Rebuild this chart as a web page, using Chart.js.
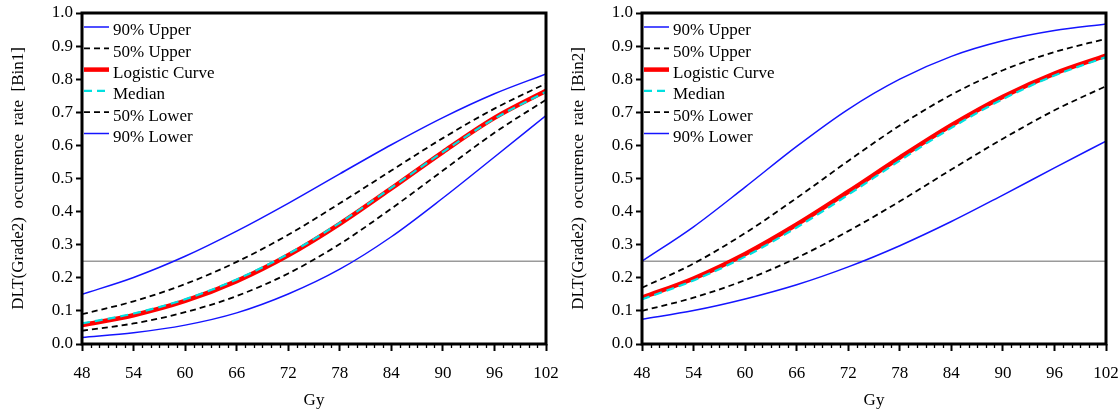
<!DOCTYPE html>
<html>
<head>
<meta charset="utf-8">
<script src="https://cdn.jsdelivr.net/npm/chart.js@4.4.0/dist/chart.umd.min.js"></script>
<style>
  html, body { margin: 0; padding: 0; background: #fff; }
  #wrap { position: relative; width: 1120px; height: 411px; }
  canvas { position: absolute; top: 0; }
</style>
</head>
<body>
<div id="wrap">
  <canvas id="bin1" width="560" height="411" style="left:0"></canvas>
  <canvas id="bin2" width="560" height="411" style="left:560px"></canvas>
</div>
<script>
// dosis (Gy)
const gy = [48, 54, 60, 66, 72, 78, 84, 90, 96, 102];
const umbral = 0.25;

// Bin1
const upper90_1  = [0.150, 0.201, 0.265, 0.341, 0.425, 0.514, 0.602, 0.684, 0.756, 0.816];
const upper50_1  = [0.090, 0.129, 0.181, 0.248, 0.330, 0.425, 0.524, 0.622, 0.711, 0.787];
const logistic_1 = [0.057, 0.087, 0.130, 0.190, 0.268, 0.363, 0.470, 0.580, 0.683, 0.765];
const median_1   = [0.062, 0.092, 0.135, 0.195, 0.272, 0.366, 0.472, 0.580, 0.681, 0.762];
const lower50_1  = [0.040, 0.062, 0.096, 0.145, 0.213, 0.302, 0.409, 0.524, 0.638, 0.738];
const lower90_1  = [0.020, 0.034, 0.057, 0.094, 0.151, 0.226, 0.324, 0.441, 0.565, 0.690];

// Bin2
const upper90_2  = [0.250, 0.354, 0.474, 0.597, 0.709, 0.800, 0.869, 0.916, 0.947, 0.967];
const upper50_2  = [0.170, 0.243, 0.335, 0.441, 0.553, 0.660, 0.753, 0.827, 0.882, 0.922];
const logistic_2 = [0.140, 0.198, 0.272, 0.361, 0.460, 0.563, 0.661, 0.747, 0.817, 0.871];
const median_2   = [0.135, 0.192, 0.264, 0.352, 0.451, 0.554, 0.653, 0.740, 0.811, 0.867];
const lower50_2  = [0.100, 0.140, 0.193, 0.260, 0.341, 0.431, 0.527, 0.620, 0.706, 0.779];
const lower90_2  = [0.075, 0.101, 0.136, 0.179, 0.233, 0.297, 0.370, 0.450, 0.532, 0.613];

const xTicks = [48, 54, 60, 66, 72, 78, 84, 90, 96, 102];
const FONT = '"Liberation Serif", "DejaVu Serif", serif';

const estilos = {
  upper90:  { label: '90% Upper',      color: '#1414ff', width: 1.5, dash: [] },
  upper50:  { label: '50% Upper',      color: '#000000', width: 1.8, dash: [6, 4] },
  logistic: { label: 'Logistic Curve', color: '#ff0000', width: 4.5, dash: [] },
  median:   { label: 'Median',         color: '#00e0e0', width: 2.2, dash: [8, 5] },
  lower50:  { label: '50% Lower',      color: '#000000', width: 1.8, dash: [6, 4] },
  lower90:  { label: '90% Lower',      color: '#1414ff', width: 1.5, dash: [] }
};
const ordenLeyenda = ['upper90', 'upper50', 'logistic', 'median', 'lower50', 'lower90'];

function serie(key, valores) {
  const e = estilos[key];
  return {
    label: e.label,
    data: gy.map((g, i) => ({ x: g, y: valores[i] })),
    borderColor: e.color,
    borderWidth: e.width,
    borderDash: e.dash,
    pointRadius: 0,
    fill: false,
    cubicInterpolationMode: 'monotone'
  };
}

// marco, ticks menores y leyenda
const marcoPlugin = {
  id: 'marco',
  afterDraw(chart) {
    const ctx = chart.ctx;
    const a = chart.chartArea;
    const xs = chart.scales.x;
    ctx.save();
    // ticks menores cada 1 Gy
    ctx.strokeStyle = '#000';
    ctx.lineWidth = 1.3;
    for (let g = xs.min; g <= xs.max; g++) {
      if ((g - xs.min) % 6 === 0) continue;
      const px = Math.round(xs.getPixelForValue(g)) + 0.5;
      ctx.beginPath();
      ctx.moveTo(px, a.bottom);
      ctx.lineTo(px, a.bottom + 4);
      ctx.stroke();
    }
    // marco grueso
    ctx.lineWidth = 3;
    ctx.strokeRect(a.left, a.top, a.right - a.left, a.bottom - a.top);

    // leyenda
    ctx.font = '17px ' + FONT;
    ctx.textBaseline = 'middle';
    ctx.fillStyle = '#000';
    ordenLeyenda.forEach((key, i) => {
      const e = estilos[key];
      const y = a.top + 14 + i * 21.3;
      ctx.beginPath();
      ctx.setLineDash(e.dash);
      ctx.strokeStyle = e.color;
      ctx.lineWidth = e.width;
      ctx.moveTo(a.left + 2, y);
      ctx.lineTo(a.left + 27, y);
      ctx.stroke();
      ctx.setLineDash([]);
      ctx.fillText(e.label, a.left + 31, y + 4);
    });
    ctx.restore();
  }
};

function crearGrafica(id, titulo, d) {
  new Chart(document.getElementById(id), {
    type: 'line',
    data: {
      datasets: [
        serie('median', d.median),
        serie('logistic', d.logistic),
        serie('upper50', d.upper50),
        serie('lower50', d.lower50),
        serie('upper90', d.upper90),
        serie('lower90', d.lower90),
        {
          label: 'umbral',
          data: [{ x: gy[0], y: umbral }, { x: gy[gy.length - 1], y: umbral }],
          borderColor: '#9a9a9a',
          borderWidth: 1.5,
          pointRadius: 0
        }
      ]
    },
    options: {
      responsive: false,
      animation: false,
      layout: { padding: { top: 13, right: 14, left: 0, bottom: 0 } },
      plugins: { legend: { display: false }, tooltip: { enabled: false } },
      scales: {
        x: {
          type: 'linear',
          min: xTicks[0],
          max: xTicks[xTicks.length - 1],
          afterBuildTicks: s => { s.ticks = xTicks.map(v => ({ value: v })); },
          afterFit: s => { s.height = 67; s.paddingLeft = 0; s.paddingRight = 0; },
          border: { display: false },
          grid: { drawOnChartArea: false, tickLength: 7, tickWidth: 2, tickColor: '#000' },
          ticks: { color: '#000', font: { family: FONT, size: 17 }, padding: 12, maxRotation: 0, autoSkip: false },
          title: { display: true, text: 'Gy', color: '#000', font: { family: FONT, size: 17 }, padding: { top: 0, bottom: 0 } }
        },
        y: {
          min: 0,
          max: 1,
          afterFit: s => { s.width = 82; s.paddingTop = 0; s.paddingBottom = 0; },
          border: { display: false },
          grid: { drawOnChartArea: false, tickLength: 6, tickWidth: 2, tickColor: '#000' },
          ticks: { stepSize: 0.1, color: '#000', font: { family: FONT, size: 17 }, padding: 3,
                   callback: v => v.toFixed(1) },
          title: { display: true, text: titulo, color: '#000', font: { family: FONT, size: 17 }, padding: { top: 8, bottom: 0 } }
        }
      }
    },
    plugins: [marcoPlugin]
  });
}

crearGrafica('bin1', 'DLT(Grade2)  occurrence  rate  [Bin1]', {
  upper90: upper90_1, upper50: upper50_1, logistic: logistic_1,
  median: median_1, lower50: lower50_1, lower90: lower90_1
});
crearGrafica('bin2', 'DLT(Grade2)  occurrence  rate  [Bin2]', {
  upper90: upper90_2, upper50: upper50_2, logistic: logistic_2,
  median: median_2, lower50: lower50_2, lower90: lower90_2
});
</script>
</body>
</html>
